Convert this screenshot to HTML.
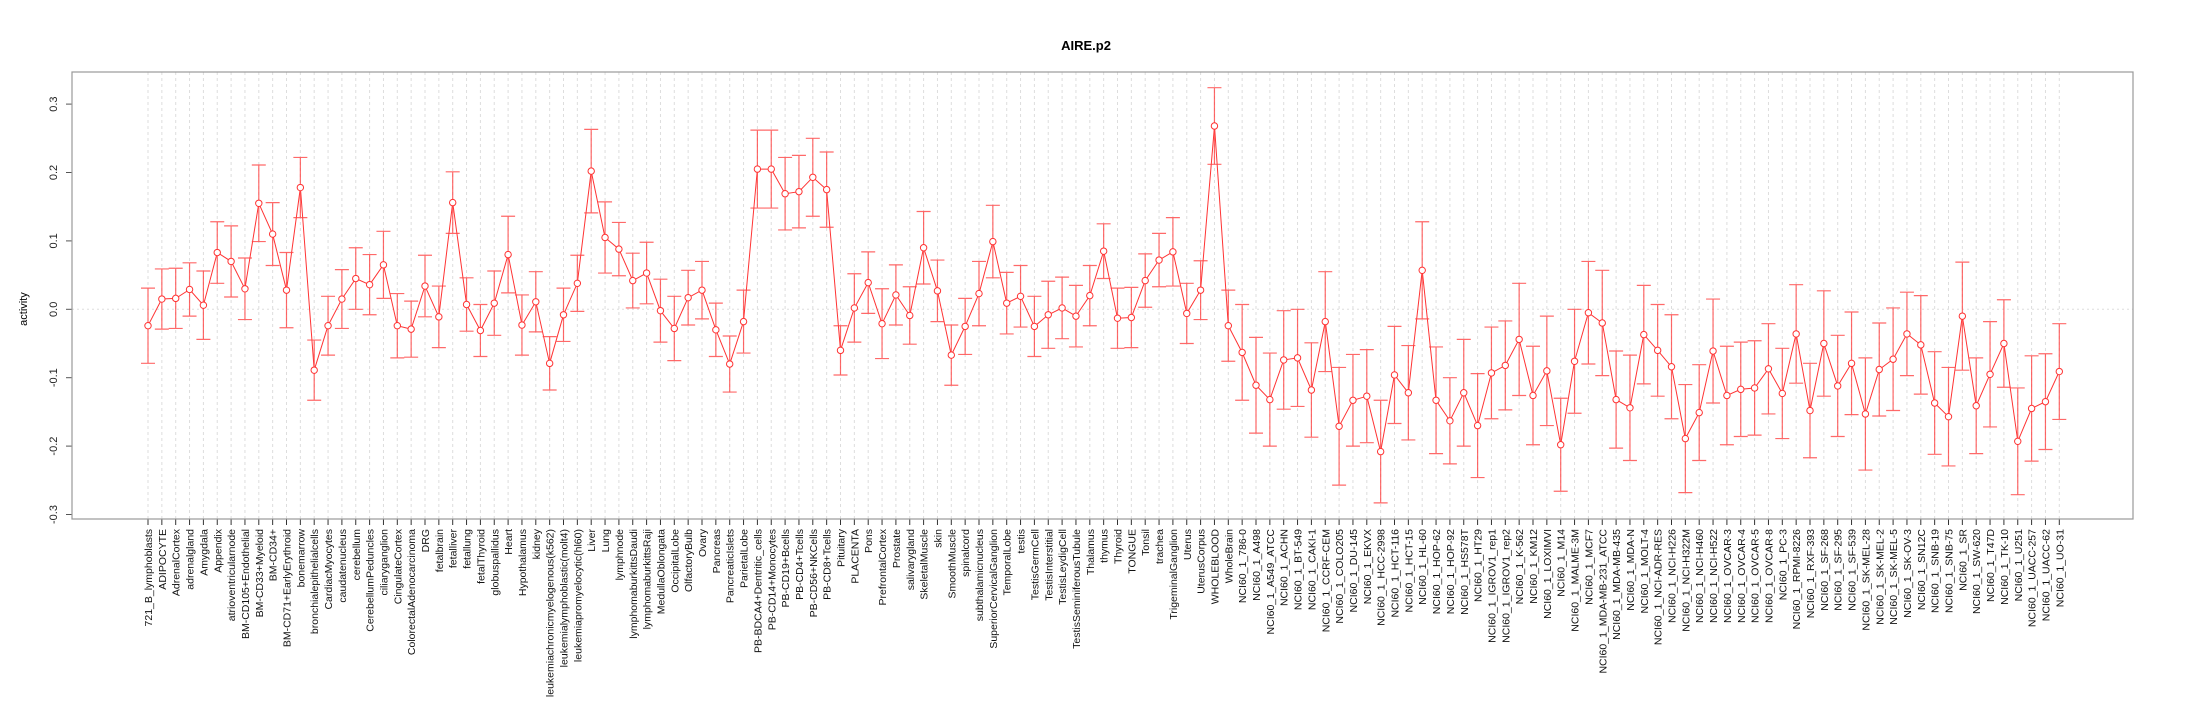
<!DOCTYPE html>
<html><head><meta charset="utf-8"><style>
html,body{margin:0;padding:0;background:#fff;}
svg{display:block;font-family:"Liberation Sans",Arial,sans-serif;}
</style></head><body>
<svg id="chart" width="2205" height="720" viewBox="0 0 2205 720" xmlns="http://www.w3.org/2000/svg">
<text x="1086" y="50" text-anchor="middle" font-size="13" font-weight="bold">AIRE.p2</text>
<text transform="translate(27,309) rotate(-90)" text-anchor="middle" font-size="11">activity</text>
<g id="grid"></g>
<g id="yaxis"></g>
<g id="xaxis"></g>
<g id="series"></g>
<rect x="72" y="72" width="2061" height="447" fill="none" stroke="#999" stroke-width="1.2"/>
</svg>
<script>
const categories = ["721_B_lymphoblasts","ADIPOCYTE","AdrenalCortex","adrenalgland","Amygdala","Appendix","atrioventricularnode","BM-CD105+Endothelial","BM-CD33+Myeloid","BM-CD34+","BM-CD71+EarlyErythroid","bonemarrow","bronchialepithelialcells","CardiacMyocytes","caudatenucleus","cerebellum","CerebellumPeduncles","ciliaryganglion","CingulateCortex","ColorectalAdenocarcinoma","DRG","fetalbrain","fetalliver","fetallung","fetalThyroid","globuspallidus","Heart","Hypothalamus","kidney","leukemiachronicmyelogenous(k562)","leukemialymphoblastic(molt4)","leukemiapromyelocytic(hl60)","Liver","Lung","lymphnode","lymphomaburkittsDaudi","lymphomaburkittsRaji","MedullaOblongata","OccipitalLobe","OlfactoryBulb","Ovary","Pancreas","PancreaticIslets","ParietalLobe","PB-BDCA4+Dentritic_cells","PB-CD14+Monocytes","PB-CD19+Bcells","PB-CD4+Tcells","PB-CD56+NKCells","PB-CD8+Tcells","Pituitary","PLACENTA","Pons","PrefrontalCortex","Prostate","salivarygland","SkeletalMuscle","skin","SmoothMuscle","spinalcord","subthalamicnucleus","SuperiorCervicalGanglion","TemporalLobe","testis","TestisGermCell","TestisInterstitial","TestisLeydigCell","TestisSeminiferousTubule","Thalamus","thymus","Thyroid","TONGUE","Tonsil","trachea","TrigeminalGanglion","Uterus","UterusCorpus","WHOLEBLOOD","WholeBrain","NCI60_1_786-0","NCI60_1_A498","NCI60_1_A549_ATCC","NCI60_1_ACHN","NCI60_1_BT-549","NCI60_1_CAKI-1","NCI60_1_CCRF-CEM","NCI60_1_COLO205","NCI60_1_DU-145","NCI60_1_EKVX","NCI60_1_HCC-2998","NCI60_1_HCT-116","NCI60_1_HCT-15","NCI60_1_HL-60","NCI60_1_HOP-62","NCI60_1_HOP-92","NCI60_1_HS578T","NCI60_1_HT29","NCI60_1_IGROV1_rep1","NCI60_1_IGROV1_rep2","NCI60_1_K-562","NCI60_1_KM12","NCI60_1_LOXIMVI","NCI60_1_M14","NCI60_1_MALME-3M","NCI60_1_MCF7","NCI60_1_MDA-MB-231_ATCC","NCI60_1_MDA-MB-435","NCI60_1_MDA-N","NCI60_1_MOLT-4","NCI60_1_NCI-ADR-RES","NCI60_1_NCI-H226","NCI60_1_NCI-H322M","NCI60_1_NCI-H460","NCI60_1_NCI-H522","NCI60_1_OVCAR-3","NCI60_1_OVCAR-4","NCI60_1_OVCAR-5","NCI60_1_OVCAR-8","NCI60_1_PC-3","NCI60_1_RPMI-8226","NCI60_1_RXF-393","NCI60_1_SF-268","NCI60_1_SF-295","NCI60_1_SF-539","NCI60_1_SK-MEL-28","NCI60_1_SK-MEL-2","NCI60_1_SK-MEL-5","NCI60_1_SK-OV-3","NCI60_1_SN12C","NCI60_1_SNB-19","NCI60_1_SNB-75","NCI60_1_SR","NCI60_1_SW-620","NCI60_1_T47D","NCI60_1_TK-10","NCI60_1_U251","NCI60_1_UACC-257","NCI60_1_UACC-62","NCI60_1_UO-31"];
const values = [-0.024,0.015,0.016,0.029,0.006,0.083,0.07,0.03,0.155,0.11,0.028,0.178,-0.089,-0.024,0.015,0.045,0.036,0.065,-0.024,-0.029,0.034,-0.011,0.156,0.007,-0.031,0.009,0.08,-0.023,0.011,-0.079,-0.008,0.038,0.202,0.105,0.088,0.042,0.053,-0.002,-0.028,0.017,0.028,-0.03,-0.08,-0.018,0.205,0.205,0.169,0.172,0.193,0.175,-0.06,0.002,0.039,-0.021,0.021,-0.009,0.09,0.027,-0.067,-0.025,0.023,0.099,0.009,0.019,-0.025,-0.008,0.002,-0.01,0.02,0.085,-0.013,-0.012,0.042,0.072,0.084,-0.006,0.028,0.268,-0.024,-0.063,-0.111,-0.132,-0.074,-0.071,-0.118,-0.018,-0.171,-0.133,-0.127,-0.208,-0.096,-0.122,0.057,-0.133,-0.163,-0.122,-0.17,-0.093,-0.082,-0.044,-0.126,-0.09,-0.198,-0.076,-0.005,-0.02,-0.132,-0.144,-0.037,-0.06,-0.084,-0.189,-0.151,-0.061,-0.126,-0.117,-0.115,-0.087,-0.123,-0.036,-0.148,-0.05,-0.112,-0.079,-0.153,-0.088,-0.073,-0.036,-0.052,-0.137,-0.157,-0.01,-0.141,-0.095,-0.05,-0.193,-0.145,-0.135,-0.091];
const errors = [0.055,0.044,0.044,0.039,0.05,0.045,0.052,0.045,0.056,0.046,0.055,0.044,0.044,0.043,0.043,0.045,0.044,0.049,0.047,0.041,0.045,0.045,0.045,0.039,0.038,0.047,0.056,0.044,0.044,0.039,0.039,0.041,0.061,0.052,0.039,0.04,0.045,0.046,0.047,0.04,0.042,0.039,0.041,0.046,0.057,0.057,0.053,0.053,0.057,0.055,0.036,0.05,0.045,0.051,0.044,0.042,0.053,0.045,0.044,0.041,0.047,0.053,0.045,0.045,0.044,0.049,0.045,0.045,0.044,0.04,0.044,0.044,0.039,0.039,0.05,0.044,0.043,0.056,0.052,0.07,0.07,0.068,0.072,0.071,0.069,0.073,0.086,0.067,0.068,0.075,0.071,0.069,0.071,0.078,0.063,0.078,0.076,0.067,0.065,0.082,0.072,0.08,0.068,0.076,0.075,0.077,0.071,0.077,0.072,0.067,0.076,0.079,0.07,0.076,0.072,0.069,0.069,0.066,0.066,0.072,0.069,0.077,0.074,0.075,0.082,0.068,0.075,0.061,0.072,0.075,0.072,0.079,0.07,0.077,0.064,0.078,0.077,0.07,0.07];
const yTicks = [-0.3,-0.2,-0.1,0.0,0.1,0.2,0.3];
const yTickLabels = ["-0.3","-0.2","-0.1","0.0","0.1","0.2","0.3"];

const NS = "http://www.w3.org/2000/svg";
const X0 = 148, DX = 13.85, Y0 = 309.3, YK = 684;
function xs(i){ return X0 + i*DX; }
function ys(v){ return Y0 - v*YK; }
function mk(tag, attrs, parent){
  const e = document.createElementNS(NS, tag);
  for (const k in attrs) e.setAttribute(k, attrs[k]);
  parent.appendChild(e);
  return e;
}
const grid = document.getElementById('grid');
const yaxis = document.getElementById('yaxis');
const xaxis = document.getElementById('xaxis');
const series = document.getElementById('series');

// grid
categories.forEach((c,i)=>{
  const l = mk('line',{x1:xs(i),x2:xs(i),y1:72,y2:519,stroke:'#ddd','stroke-width':1,'stroke-dasharray':'3,3'},grid);
  
  
});
const zl = mk('line',{x1:72,x2:2133,y1:ys(0),y2:ys(0),stroke:'#ddd','stroke-width':1,'stroke-dasharray':'2,3'},grid);



// y axis
mk('line',{x1:72,x2:72,y1:ys(0.3),y2:ys(-0.3),stroke:'#555','stroke-width':1},yaxis);
yTicks.forEach((t,i)=>{
  const tk = mk('line',{x1:66,x2:72,y1:ys(t),y2:ys(t),stroke:'#555','stroke-width':1},yaxis);
  
  
  const tx = mk('text',{transform:`translate(57,${ys(t)}) rotate(-90)`,'text-anchor':'middle','font-size':11,fill:'#222'},yaxis);
  tx.textContent = yTickLabels[i];
  
  
});

// x axis
mk('line',{x1:xs(0),x2:xs(categories.length-1),y1:519,y2:519,stroke:'#333','stroke-width':1},xaxis);
categories.forEach((c,i)=>{
  const tk = mk('line',{x1:xs(i),x2:xs(i),y1:519,y2:525,stroke:'#333','stroke-width':1},xaxis);
  
  
  const tx = mk('text',{transform:`translate(${xs(i)+4},529) rotate(-90)`,'text-anchor':'end','font-size':10.5,fill:'#111'},xaxis);
  tx.textContent = c;
  
  
});

// line
let d = '';
values.forEach((v,i)=>{ d += (i?'L':'M') + xs(i).toFixed(1) + ' ' + ys(v).toFixed(1); });
const pl = mk('path',{d:d,fill:'none',stroke:'#f33','stroke-width':1},series);



values.forEach((v,i)=>{
  const x = xs(i), yt = ys(v+errors[i]), yb = ys(v-errors[i]);
  const eb = mk('path',{d:`M${x} ${yt}L${x} ${yb}M${x-7} ${yt}L${x+7} ${yt}M${x-7} ${yb}L${x+7} ${yb}`,stroke:'#f44','stroke-opacity':0.8,'stroke-width':1.2,fill:'none'},series);
  
  
  const pt = mk('circle',{cx:x,cy:ys(v),r:3.2,fill:'#fff',stroke:'#f33','stroke-width':1},series);
  
  
});
</script>
</body></html>
